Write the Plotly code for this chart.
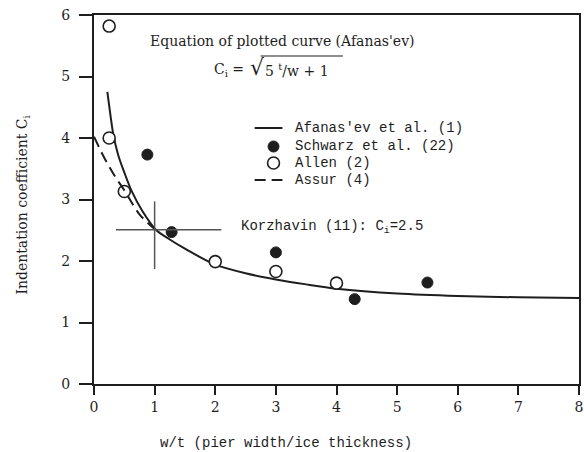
import plotly.graph_objects as go

# ---- data ----
afan_x = [0.22, 0.27, 0.32, 0.4, 0.5, 0.62, 0.8, 1.03, 1.25, 1.5, 2.0, 2.5, 3.0, 3.5, 4.0, 5.0, 6.0, 7.0, 8.0]
afan_y = [4.75, 4.38, 4.05, 3.72, 3.44, 3.14, 2.81, 2.50, 2.35, 2.20, 1.94, 1.80, 1.70, 1.62, 1.55, 1.47, 1.43, 1.41, 1.40]

assur_x = [0.0, 0.18, 0.35, 0.5, 0.75, 1.0]
assur_y = [4.02, 3.66, 3.37, 3.15, 2.76, 2.52]

schwarz_x = [0.88, 1.28, 3.0, 4.3, 5.5]
schwarz_y = [3.73, 2.47, 2.14, 1.38, 1.65]

allen_x = [0.25, 0.25, 0.5, 2.0, 3.0, 4.0]
allen_y = [5.82, 4.0, 3.13, 1.99, 1.83, 1.64]

korz_h_x = [0.36, 2.1]
korz_h_y = [2.51, 2.51]
korz_v_x = [1.0, 1.0]
korz_v_y = [1.87, 2.97]

x_ticks = [0, 1, 2, 3, 4, 5, 6, 7, 8]
y_ticks = [0, 1, 2, 3, 4, 5, 6]

legend_labels = ["Afanas'ev et al. (1)", "Schwarz et al. (22)", "Allen (2)", "Assur (4)"]

INK = "#1e1e1e"
SERIF = "DejaVu Serif"
MONO = "Liberation Mono"

fig = go.Figure()

fig.add_trace(go.Scatter(x=afan_x, y=afan_y, mode="lines", name=legend_labels[0],
                         line=dict(color=INK, width=2, shape="spline", smoothing=0.8)))
fig.add_trace(go.Scatter(x=schwarz_x, y=schwarz_y, mode="markers", name=legend_labels[1],
                         marker=dict(color=INK, size=11, line=dict(color=INK, width=1))))
fig.add_trace(go.Scatter(x=allen_x, y=allen_y, mode="markers", name=legend_labels[2],
                         marker=dict(color="white", size=12, line=dict(color=INK, width=1.6))))
fig.add_trace(go.Scatter(x=assur_x, y=assur_y, mode="lines", name=legend_labels[3],
                         line=dict(color=INK, width=2, dash="11px,6px", shape="spline")))
fig.add_trace(go.Scatter(x=korz_h_x, y=korz_h_y, mode="lines",
                         line=dict(color="#555", width=1.5)))
fig.add_trace(go.Scatter(x=korz_v_x, y=korz_v_y, mode="lines",
                         line=dict(color="#555", width=1.5)))

axis_common = dict(showgrid=False, zeroline=False, showline=True, linecolor=INK,
                   linewidth=2, mirror=True, ticks="outside", tickcolor=INK, tickwidth=1.5)

fig.update_xaxes(range=[0, 8], tickvals=x_ticks, ticklen=9, ticklabeloverflow="allow",
                 tickfont=dict(family=SERIF, size=14, color=INK), **axis_common)
fig.update_yaxes(range=[0, 6], tickvals=y_ticks, ticklen=13, ticklabelstandoff=6,
                 tickfont=dict(family=SERIF, size=14, color=INK), **axis_common)

def px(xp):
    return (xp - 94) / 489.0

def py(yp):
    return (384 - yp) / 369.0

annotations = [
    dict(text="Equation of plotted curve (Afanas'ev)", x=px(284), y=py(41),
         font=dict(family=SERIF, size=14, color=INK)),
    dict(text="C<sub>i</sub> =", x=px(247), y=py(70), xanchor="right",
         font=dict(family=SERIF, size=14, color=INK)),
    dict(text="\u221a", x=px(249), y=py(67), xanchor="left",
         font=dict(family=SERIF, size=22, color=INK)),
    dict(text="5 <sup>t</sup>/w + 1", x=px(264), y=py(70), xanchor="left",
         font=dict(family=SERIF, size=14, color=INK)),
    dict(text="Korzhavin (11): C<sub>i</sub>=2.5", x=px(240), y=py(227), xanchor="left",
         font=dict(family=MONO, size=14, color=INK)),
    dict(text="Indentation coefficient C<sub>i</sub>", x=px(22), y=py(205), textangle=-90,
         font=dict(family=SERIF, size=14, color=INK)),
    dict(text="w/t (pier width/ice thickness)", x=px(288), y=py(443),
         font=dict(family=MONO, size=14, color=INK)),
]
legend_rows = [128, 146, 163, 180]
for lab, ry in zip(legend_labels, legend_rows):
    annotations.append(dict(text=lab, x=px(295), y=py(ry), xanchor="left",
                            font=dict(family=MONO, size=14, color=INK)))
for a in annotations:
    a.update(xref="paper", yref="paper", showarrow=False)
    a.setdefault("xanchor", "center")
    a.setdefault("yanchor", "middle")

def circ(cx, cy, r, fill, lw):
    return dict(type="circle", xref="paper", yref="paper",
                x0=px(cx - r), x1=px(cx + r), y0=py(cy + r), y1=py(cy - r),
                fillcolor=fill, line=dict(color=INK, width=lw))

shapes = [
    # overline of the square root
    dict(type="line", xref="paper", yref="paper", x0=px(262), x1=px(345),
         y0=py(56), y1=py(56), line=dict(color=INK, width=1.2)),
    # legend keys
    dict(type="line", xref="paper", yref="paper", x0=px(256), x1=px(284),
         y0=py(128), y1=py(128), line=dict(color=INK, width=2)),
    circ(275, 146.5, 5.5, INK, 1),
    circ(275, 163, 6, "white", 1.6),
    dict(type="line", xref="paper", yref="paper", x0=px(256), x1=px(284),
         y0=py(180), y1=py(180), line=dict(color=INK, width=2, dash="11px,6px")),
]

fig.update_layout(
    width=584, height=452,
    margin=dict(l=94, r=1, t=15, b=68),
    paper_bgcolor="white", plot_bgcolor="white",
    showlegend=False,
    annotations=annotations,
    shapes=shapes,
)

fig.write_html("out.html", config={"displayModeBar": False},
               post_script="document.body.style.margin='0px';")
